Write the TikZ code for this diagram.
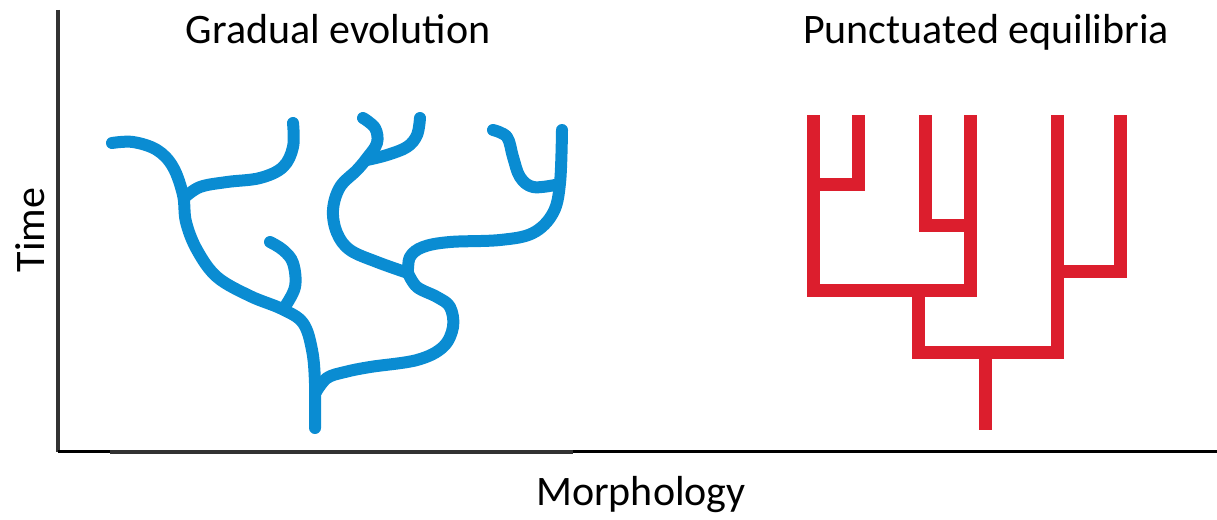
\documentclass[tikz,border=0pt]{standalone}
\usepackage{fontspec}
\setmainfont{Carlito}
\usepackage{tikz}
\definecolor{gradblue}{RGB}{10,140,210}
\definecolor{punctred}{RGB}{220,30,45}
\definecolor{axisgray}{RGB}{50,50,50}
\tikzset{
    x=1pt, y=-1pt, % one unit is one pixel of the original, y runs down
    heading/.style={ % text above and beside the axes
        font=\fontsize{42}{50}\selectfont,
        inner sep=0pt,
        anchor=base
    },
    axis/.style={draw=axisgray, line width=4.5pt},
    baseline axis/.style={draw=black, line width=3pt},
    gradual/.style={ % the smooth blue lineages
        draw=gradblue,
        line width=12pt,
        line cap=round,
        line join=round
    },
    punct/.style={ % the square red lineages
        draw=punctred,
        line width=13pt,
        line join=miter
    }
}

\begin{document}
\begin{tikzpicture}
        \useasboundingbox (0,0) rectangle (1217,519);
        % achsen
        \coordinate (ytop)   at (58,10);
        \coordinate (origin) at (58,452);
        \coordinate (xend)   at (1217,451);
        \coordinate (barl)   at (110,452);
        \coordinate (barr)   at (573,452);
        \draw[axis]          (ytop) -- (origin);
        \draw[baseline axis] (origin |- xend) -- (xend);
        \draw[axis]          (barl) -- (barr);

        % beschriftung
        \node[heading]             (gradtitle)  at (338,44)  {Gradual evolution};
        \node[heading]             (puncttitle) at (986,44)  {Punctuated equilibria};
        \node[heading]             (xlabel)     at (641,505) {Morphology};
        \node[heading, rotate=90]  (ylabel)     at (44,230)  {Time};

        % allmaehlich
        \draw[gradual] plot[smooth, tension=0.6] coordinates {
            (112,143) (133,142) (157,150) (173,167) (183,195) (186,222)
            (197,250) (217,277) (250,296) (282,309) (303,323) (312,350)
            (315,383) (315,428)};
        \draw[gradual] plot[smooth, tension=0.6] coordinates {
            (184,198) (200,187) (227,182) (260,178) (283,167) (293,147) (293,123)};
        \draw[gradual] plot[smooth, tension=0.6] coordinates {
            (284,308) (295,287) (293,263) (283,250) (270,242)};
        \draw[gradual] plot[smooth, tension=0.6] coordinates {
            (316,392) (327,378) (345,372) (370,367) (417,360) (443,347)
            (453,327) (450,307) (437,297) (417,287) (408,273)};
        \draw[gradual] plot[smooth, tension=0.6] coordinates {
            (408,273) (377,262) (350,250) (337,233) (333,210) (340,187)
            (357,170) (367,158) (377,143) (375,128) (363,118)};
        \draw[gradual] plot[smooth, tension=0.6] coordinates {
            (367,160) (387,155) (407,147) (417,135) (420,118)};
        \draw[gradual] plot[smooth, tension=0.6] coordinates {
            (408,273) (410,257) (423,247) (450,242) (500,240) (533,233)
            (553,213) (560,183) (562,130)};
        \draw[gradual] plot[smooth, tension=0.6] coordinates {
            (555,185) (533,187) (520,177) (513,157) (507,137) (493,130)};

        % sprunghaft
        \draw[punct] (813,115) -- (813,290) -- (970,290) -- (970,115);
        \draw[punct] (858,115) -- (858,184) -- (813,184);
        \draw[punct] (925,115) -- (925,225) -- (970,225);
        \draw[punct] (918,290) -- (918,352) -- (1057,352) -- (1057,115);
        \draw[punct] (1057,271) -- (1120,271) -- (1120,115);
        \draw[punct] (985,352) -- (985,430);
\end{tikzpicture}
\end{document}
